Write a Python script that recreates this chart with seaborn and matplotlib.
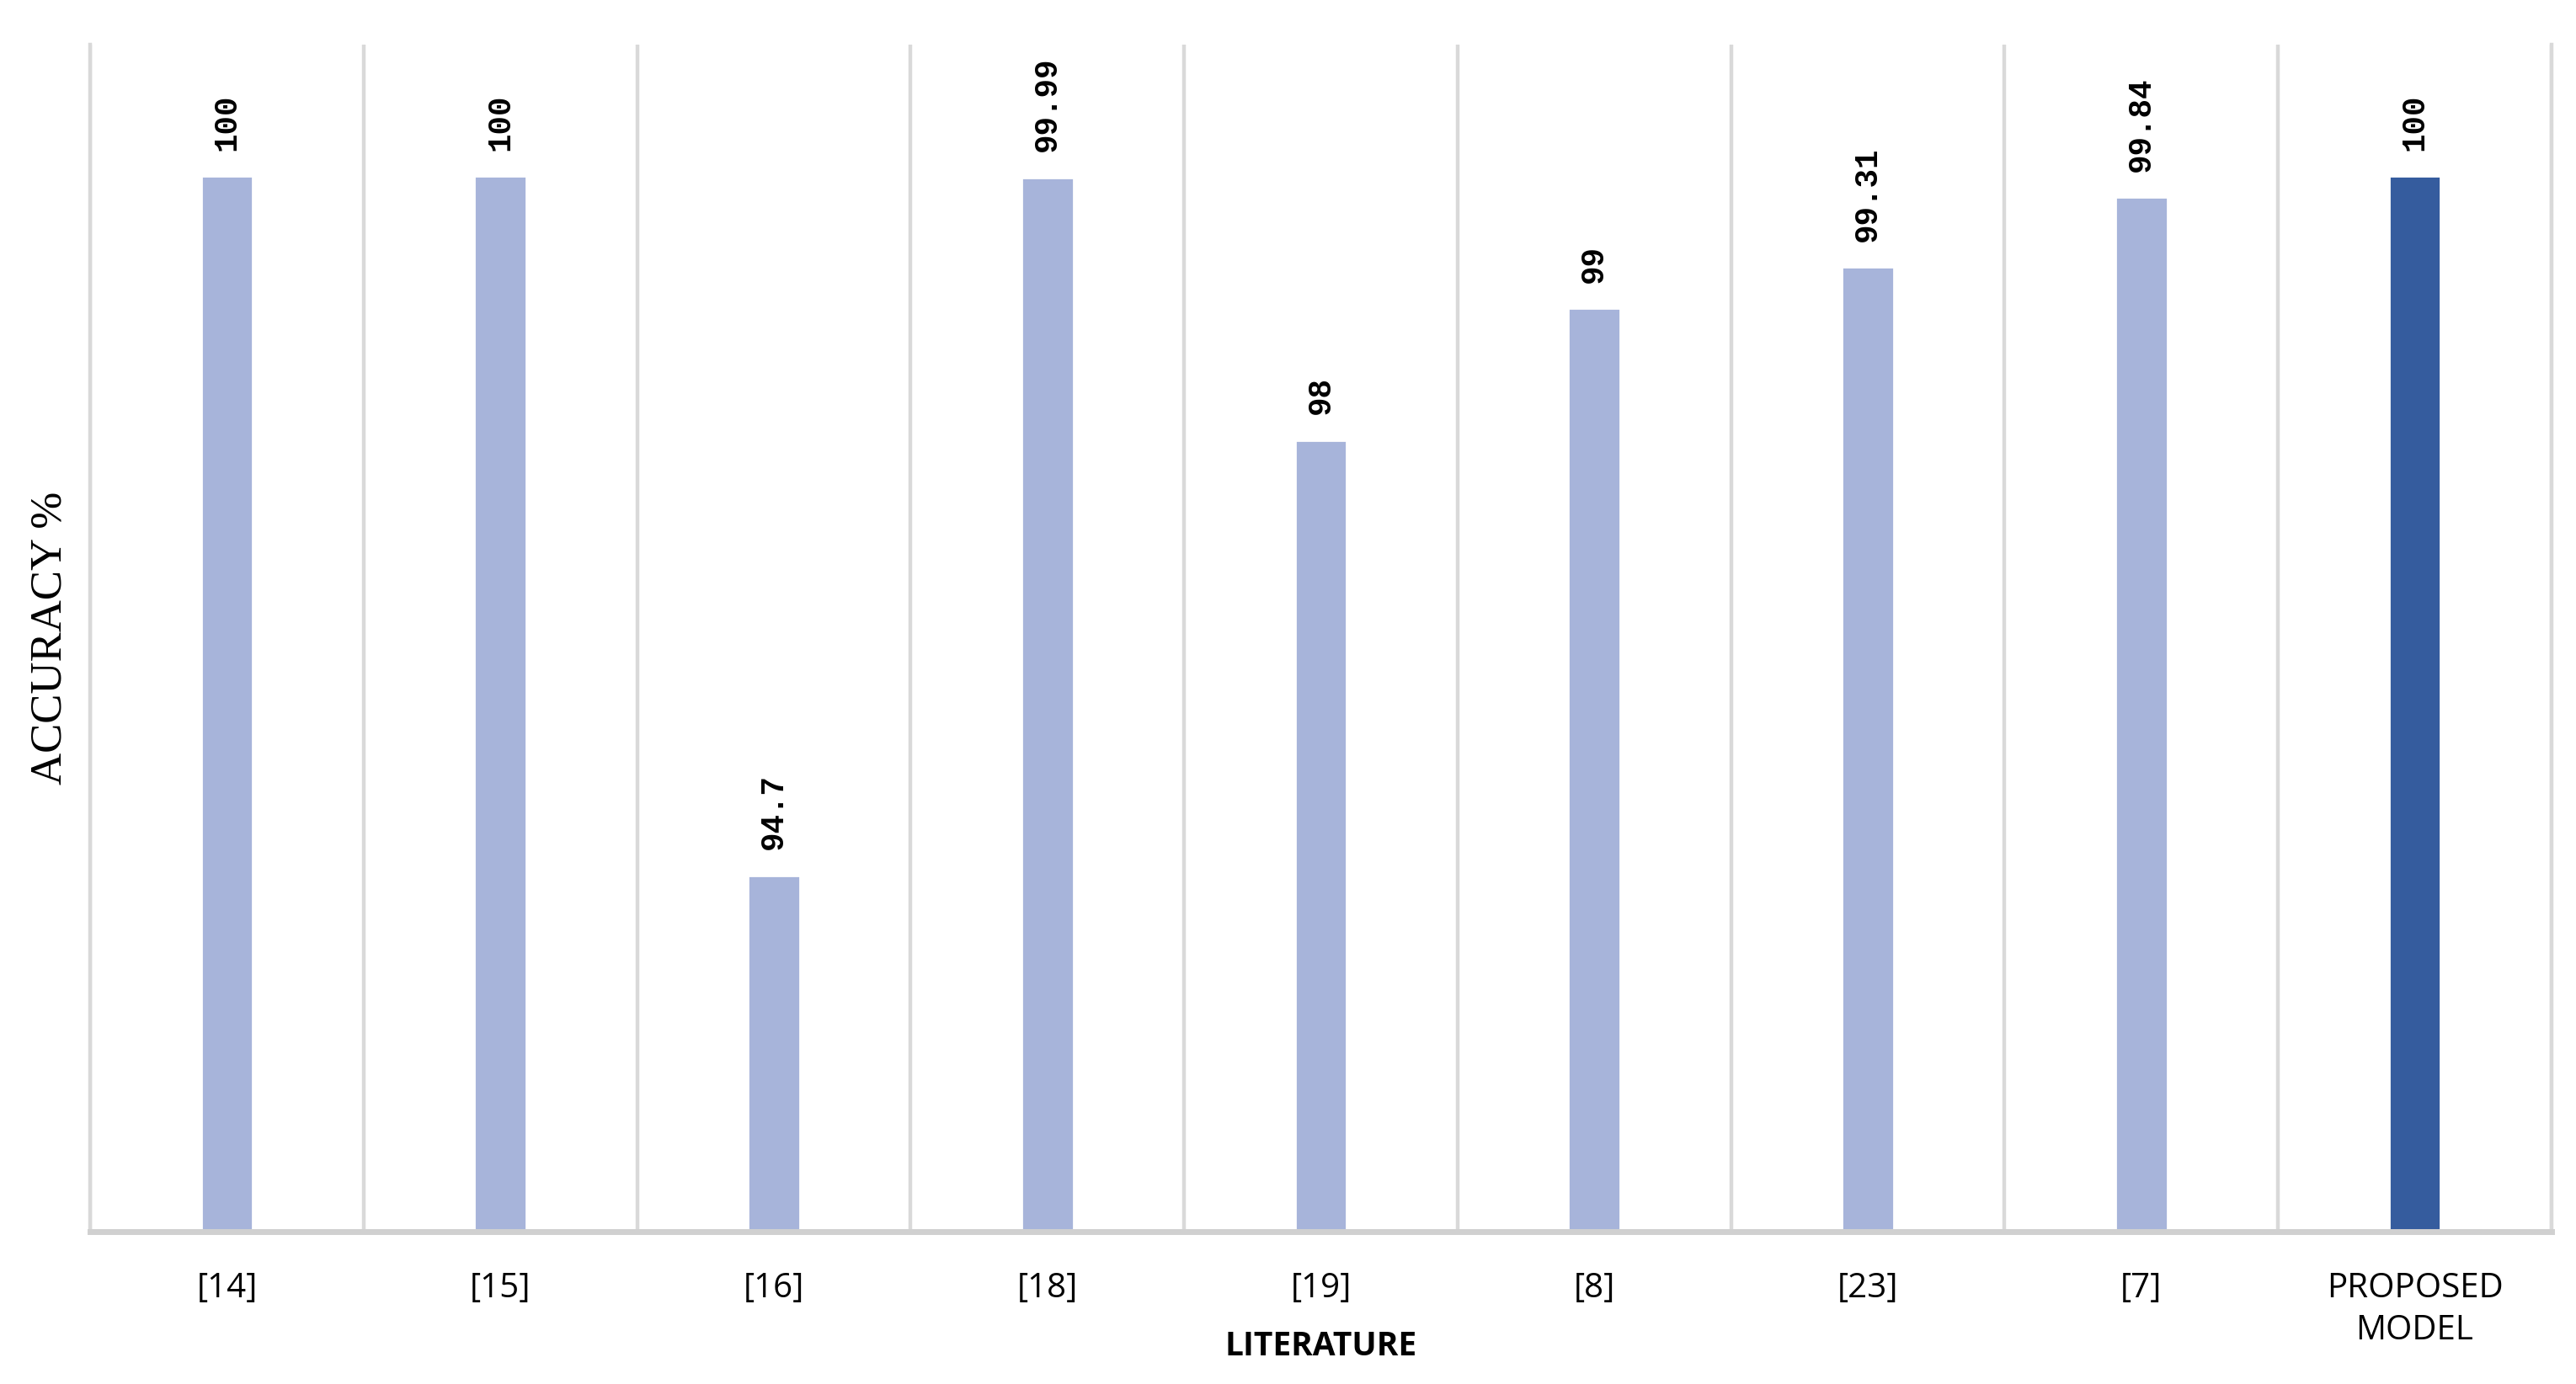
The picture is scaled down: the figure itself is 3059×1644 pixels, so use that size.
import seaborn as sns
import pandas as pd
import matplotlib.pyplot as plt
from matplotlib.ticker import FixedLocator

refs = ["[14]", "[15]", "[16]", "[18]", "[19]", "[8]", "[23]", "[7]", "PROPOSED\nMODEL"]
accuracy = [100, 100, 94.7, 99.99, 98, 99, 99.31, 99.84, 100]
value_labels = ["100", "100", "94.7", "99.99", "98", "99", "99.31", "99.84", "100"]
bar_colors = ["#A7B4DA"] * 8 + ["#355C9E"]

df = pd.DataFrame({"Literature": refs, "Accuracy": accuracy})

sns.set_style("white")
plt.rcParams["text.color"] = "black"
plt.rcParams["xtick.color"] = "black"
plt.rcParams["axes.labelcolor"] = "black"

fig = plt.figure(figsize=(3059 / 200, 1644 / 200), dpi=200)
ax = fig.add_axes([0.035, 0.110, 0.9555, 0.858])

sns.barplot(data=df, x="Literature", y="Accuracy", hue="Literature",
            palette=bar_colors, width=0.19, legend=False, ax=ax,
            saturation=1)

ax.set_ylim(92, 101)
ax.set_xlim(-0.5, len(refs) - 0.5)
ax.set_yticks([])

# value labels above bars
for cont, lab in zip(ax.containers, value_labels):
    ax.bar_label(cont, labels=[lab], rotation=90, padding=11, fontsize=13.5,
                 fontweight="bold", family="Liberation Mono", color="black")

# vertical separators between categories
ax.xaxis.set_minor_locator(FixedLocator([i - 0.5 for i in range(len(refs) + 1)]))
ax.grid(axis="x", which="minor", color="#D9D9D9", linewidth=1.6)
ax.grid(axis="x", which="major", visible=False)
ax.tick_params(axis="x", which="both", length=0, pad=17)
for t in ax.get_xticklabels():
    t.set_fontsize(14.5)
    t.set_family("Open Sans")
    t.set_linespacing(1.3)
    t.set_color("black")

ax.spines["top"].set_visible(False)
for s in ["left", "right"]:
    ax.spines[s].set_color("#D9D9D9")
    ax.spines[s].set_linewidth(1.6)
ax.spines["bottom"].set_color("#D0D0D0")
ax.spines["bottom"].set_linewidth(2.5)

ax.set_xlabel("LITERATURE", fontsize=14, fontweight="bold", family="Open Sans")
ax.xaxis.set_label_coords(0.5, -0.083)
ax.set_ylabel("ACCURACY %", fontsize=19, family="Liberation Serif")
ax.yaxis.set_label_coords(-0.008, 0.5)

plt.savefig("out.png", dpi=200)
